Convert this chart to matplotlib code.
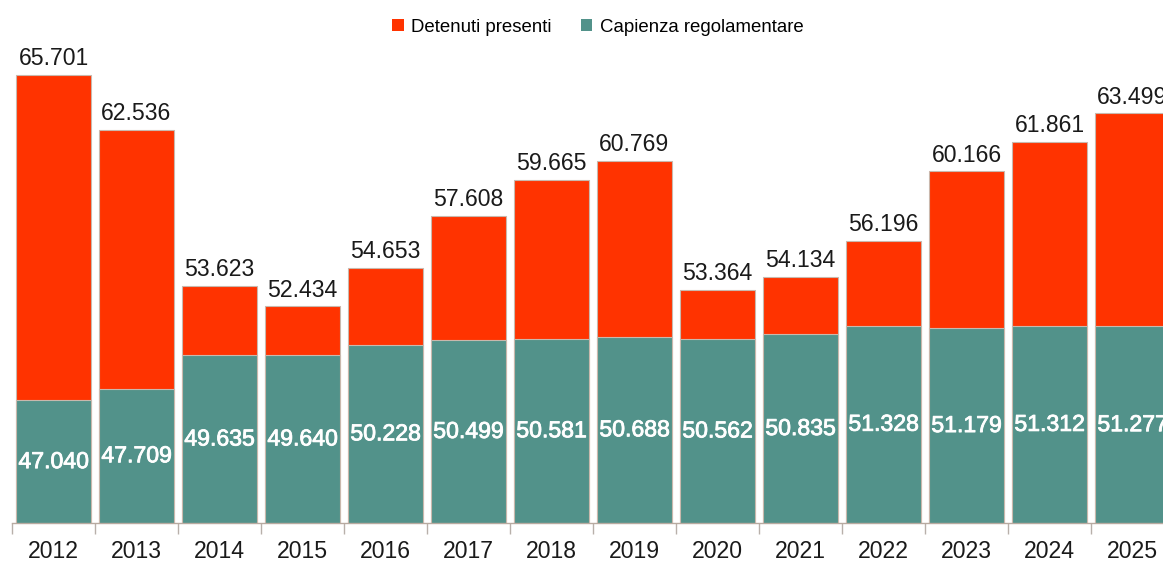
import matplotlib.pyplot as plt
import matplotlib.patheffects as pe
import numpy as np
from matplotlib.patches import Patch

plt.rcParams['font.family'] = ['Liberation Sans', 'DejaVu Sans']

years = ['2012', '2013', '2014', '2015', '2016', '2017', '2018',
         '2019', '2020', '2021', '2022', '2023', '2024', '2025']
detenuti = [65701, 62536, 53623, 52434, 54653, 57608, 59665,
            60769, 53364, 54134, 56196, 60166, 61861, 63499]
capienza = [47040, 47709, 49635, 49640, 50228, 50499, 50581,
            50688, 50562, 50835, 51328, 51179, 51312, 51277]

red = '#ff3300'
green = '#52928a'
edge = '#c9b8ad'

def fmt(v):
    return f'{v:,}'.replace(',', '.')

fig = plt.figure(figsize=(11.63, 5.61), dpi=100)
ax = fig.add_axes([12/1163, 1 - 523/561, 1 - 12/1163, 523/561])

x = np.arange(len(years))
ymin, ymax = 40000, 70000
ax.bar(x, detenuti, width=0.9, color=red, edgecolor=edge, linewidth=0.8)
ax.bar(x, capienza, width=0.9, color=green, edgecolor=edge, linewidth=0.8)

bold = [pe.withStroke(linewidth=0.6, foreground='white')]
for i in range(len(years)):
    ax.annotate(fmt(detenuti[i]), (x[i], detenuti[i]), xytext=(0, 7),
                textcoords='offset points', ha='center', va='baseline',
                fontsize=16.6, color='#1a1a1a', annotation_clip=False)
    ax.text(x[i], (ymin + capienza[i]) / 2, fmt(capienza[i]), ha='center',
            va='center', fontsize=16.6, color='white', path_effects=bold)

ax.set_xticks(x)
ax.set_xticklabels(years, fontsize=16.6, color='#1a1a1a')
ax.set_xticks(np.arange(len(years) + 1) - 0.5, minor=True)
ax.tick_params(axis='x', which='major', length=0, pad=12)
ax.tick_params(axis='x', which='minor', length=8, color='#b8b0aa', width=1)
ax.set_yticks([])
# limits after the ticks, set_xticks would widen them otherwise
ax.set_ylim(ymin, ymax)
ax.set_xlim(-0.5, -0.5 + (1163 - 12) / 83.0)
for s in ['left', 'right', 'top']:
    ax.spines[s].set_visible(False)
ax.spines['bottom'].set_color('#b8aaa0')
ax.spines['bottom'].set_linewidth(1)

handles = [Patch(facecolor=red, edgecolor='none', label='Detenuti presenti'),
           Patch(facecolor=green, edgecolor='none', label='Capienza regolamentare')]
fig.legend(handles=handles, loc='center', bbox_to_anchor=(598/1163, 1 - 27/561),
           ncol=2, frameon=False, fontsize=13.4, handlelength=0.6, handleheight=0.6,
           handletextpad=0.4, columnspacing=1.6)

fig.savefig('out.png', dpi=100)
